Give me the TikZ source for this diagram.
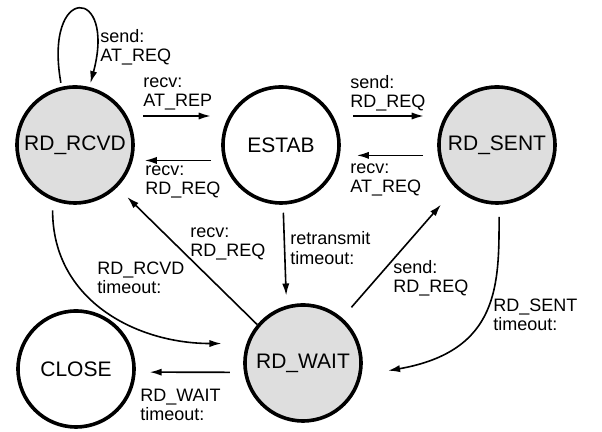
\documentclass[tikz,border=0pt]{standalone}
\usepackage{fontspec}
\setmainfont{Liberation Sans}
\usetikzlibrary{arrows.meta,positioning}

\tikzset{
  state/.style={circle,draw,line width=1.8pt,minimum size=58pt,inner sep=0pt,
    font=\fontsize{10.5}{12}\selectfont},
  busy/.style={state,fill=black!13},
  trans/.style={line width=0.8pt,-{Latex[length=6pt,width=3.6pt]}},
  lbl/.style={anchor=west,align=left,inner sep=0pt,
    font=\fontsize{9}{9.6}\selectfont}
}

\begin{document}
\begin{tikzpicture}[x=0.5pt,y=0.5pt]
      \useasboundingbox (0,0) rectangle (602,432);

      % States
      \node[busy]  (rcvd)  at (75,287)  {RD\_RCVD};
      \node[state] (estab) at (281,287) {ESTAB};
      \node[busy]  (sent)  at (497,287) {RD\_SENT};
      \node[state] (close) at (76,63)   {CLOSE};
      \node[busy]  (wait)  at (303,69)  {RD\_WAIT};

      % Transitions along the top row
      \draw[trans,shorten <=2pt,shorten >=2pt] (rcvd.103) .. controls +(100:105) and +(75:105) .. (rcvd.76);
      \draw[trans,shorten <=8pt,shorten >=9pt] (rcvd.29) -- (estab.151);
      \draw[trans,shorten <=6pt,shorten >=6pt] (estab.195) -- (rcvd.-15);
      \draw[trans,shorten <=10pt,shorten >=10.5pt] (estab.29) -- (sent.151);
      \draw[trans,shorten <=7.5pt,shorten >=8.5pt] (sent.190) -- (estab.-10);

      % Transitions into and out of RD_WAIT
      \draw[trans,shorten <=4pt,shorten >=5pt] (estab.-88) -- (wait.106);
      \draw[trans,shorten >=7pt] (wait.140) -- (rcvd.-45);
      \draw[trans,shorten <=7pt,shorten >=11pt] (wait.49.5) -- (sent.226.5);
      \draw[trans,shorten <=5pt,shorten >=12.5pt] (rcvd.248) .. controls +(270:100) and +(180:110) .. (wait.161);
      \draw[trans,shorten <=6pt,shorten >=13.5pt] (sent.272) .. controls +(270:80) and +(10:140) .. (wait.-12);
      \draw[trans,shorten <=7pt,shorten >=7pt] (wait.189) -- (close.-3);

      % Labels
      \node[lbl] (lLoop)    at (100,385) {send:\\AT\_REQ};
      \node[lbl] (lAtRep)   at (143,338) {recv:\\AT\_REP};
      \node[lbl] (lRdReqA)  at (145,250) {recv:\\RD\_REQ};
      \node[lbl] (lSendRd)  at (350,339) {send:\\RD\_REQ};
      \node[lbl] (lAtReq)   at (350,252) {recv:\\AT\_REQ};
      \node[lbl] (lRdReqB)  at (190,188) {recv:\\RD\_REQ};
      \node[lbl] (lRetrans) at (290,184) {retransmit\\timeout:};
      \node[lbl] (lRcvdTo)  at (97,154)  {RD\_RCVD\\timeout:};
      \node[lbl] (lSendRdB) at (393,154) {send:\\RD\_REQ};
      \node[lbl] (lSentTo)  at (493,117) {RD\_SENT\\timeout:};
      \node[lbl] (lWaitTo)  at (140,27)  {RD\_WAIT\\timeout:};
    \end{tikzpicture}
\end{document}
